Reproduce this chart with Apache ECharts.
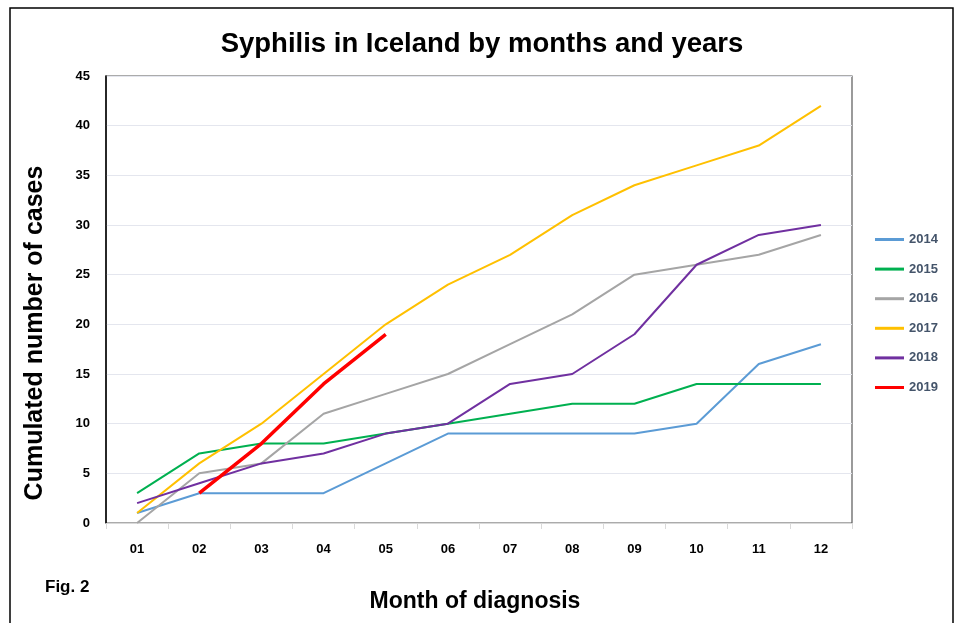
<!DOCTYPE html>
<html>
<head>
<meta charset="utf-8">
<script src="https://cdn.jsdelivr.net/npm/echarts@6/dist/echarts.min.js"></script>
<style>
html,body{margin:0;padding:0;background:#fff;}
#c{width:954px;height:623px;}
</style>
</head>
<body>
<div id="c"></div>
<script>
const months = ['01','02','03','04','05','06','07','08','09','10','11','12'];
const years = ['2014','2015','2016','2017','2018','2019'];
const s2014 = [1,3,3,3,6,9,9,9,9,10,16,18];
const s2015 = [3,7,8,8,9,10,11,12,12,14,14,14];
const s2016 = [0,5,6,11,13,15,18,21,25,26,27,29];
const s2017 = [1,6,10,15,20,24,27,31,34,36,38,42];
const s2018 = [2,4,6,7,9,10,14,15,19,26,29,30];
const s2019 = [null,3,8,14,19,null,null,null,null,null,null,null];
const yTicks = [0,5,10,15,20,25,30,35,40,45];

const values = [s2014,s2015,s2016,s2017,s2018,s2019];
const colors = ['#5B9BD5','#00B050','#A5A5A5','#FFC000','#7030A0','#FF0000'];
const widths = [2,2,2,2,2,3.5];

const FONT = '"Liberation Sans",sans-serif';
const chart = echarts.init(document.getElementById('c'));
chart.setOption({
  animation:false,
  backgroundColor:'#fff',
  title:{
    text:'Syphilis in Iceland by months and years',
    left:477, top:25, textAlign:'center',
    textStyle:{fontFamily:FONT,fontSize:27.5,fontWeight:'bold',color:'#000'}
  },
  grid:{left:106,right:102,top:76,bottom:100,show:true,borderColor:'#595959',borderWidth:1.2,backgroundColor:'transparent'},
  legend:{
    orient:'vertical', left:875, top:233, padding:0, itemWidth:29, itemHeight:3, itemGap:16.6,
    icon:'rect',
    data:years.map((y,i)=>({name:y,itemStyle:{color:colors[i]}})),
    textStyle:{fontFamily:FONT,fontSize:13,fontWeight:'bold',color:'#44546A'}
  },
  xAxis:{
    type:'category', data:months, boundaryGap:true,
    axisLine:{lineStyle:{color:'#D9D9D9',width:1}},
    axisTick:{show:true,length:6,lineStyle:{color:'#D9D9D9'}},
    axisLabel:{margin:20,fontFamily:FONT,fontSize:13,fontWeight:'bold',color:'#000'}
  },
  yAxis:{
    type:'value', min:0, max:45, interval:5,
    axisLine:{show:true,lineStyle:{color:'#000',width:1.5}},
    axisTick:{show:false},
    splitLine:{lineStyle:{color:'#E4E6EE',width:1}},
    axisLabel:{margin:16,fontFamily:FONT,fontSize:13,fontWeight:'bold',color:'#000',
      formatter:v=>yTicks.includes(v)?String(v):''}
  },
  series: years.map((y,i)=>({
    name:y, type:'line', data:values[i], symbol:'none', showSymbol:false,
    connectNulls:false,
    lineStyle:{color:colors[i],width:widths[i]},
    itemStyle:{color:colors[i]},
    z: i===5?5:2
  })),
  graphic:[
    {type:'rect',shape:{x:10,y:8,width:943,height:640},style:{fill:'none',stroke:'#000',lineWidth:1.5},silent:true},
    {type:'text',left:45,top:579,style:{text:'Fig. 2',fontFamily:FONT,fontSize:17,fontWeight:'bold',fill:'#000'}},
    {type:'text',x:475,y:602,style:{text:'Month of diagnosis',fontFamily:FONT,fontSize:23,fontWeight:'bold',fill:'#000',align:'center',verticalAlign:'middle'}},
    {type:'text',x:35,y:333,rotation:Math.PI/2,style:{text:'Cumulated number of cases',fontFamily:FONT,fontSize:25,fontWeight:'bold',fill:'#000',align:'center',verticalAlign:'middle'}}
  ]
});
</script>
</body>
</html>
